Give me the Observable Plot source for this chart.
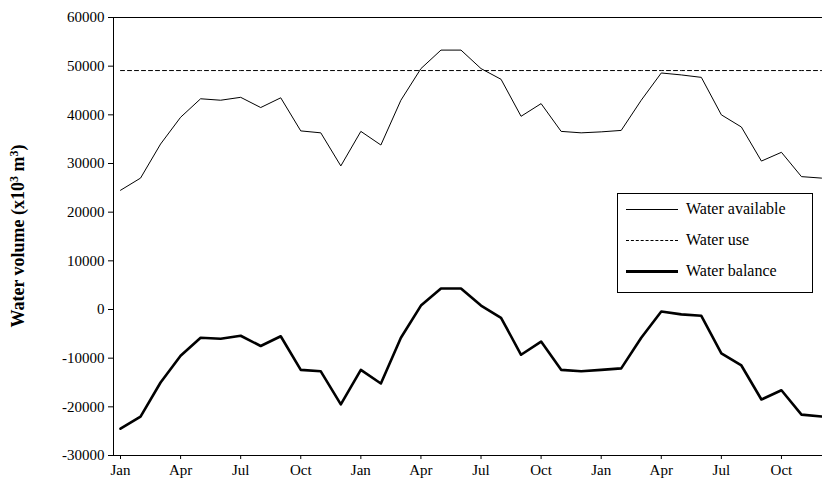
<!DOCTYPE html>
<html><head>
<script src="https://cdn.jsdelivr.net/npm/d3@7"></script>
<script src="https://cdn.jsdelivr.net/npm/@observablehq/plot@0.6"></script>
<style>
body{margin:0;background:#fff;font-family:"Liberation Serif",serif}
#chart{position:relative;width:822px;height:490px}
#legend{position:absolute;left:617px;top:193px;width:194px;height:98px;border:1px solid #000;background:#fff;font-size:16px}
#legend div{position:absolute;left:8px;display:flex;align-items:center}
#legend span.l{display:inline-block;width:52px;margin-right:8px;border-top:1px solid #000}
</style>
</head><body>
<div id="chart"><div id="legend">
<div style="top:6px"><span class="l"></span>Water available</div>
<div style="top:37px"><span class="l" style="border-top:1px dashed #000"></span>Water use</div>
<div style="top:68px"><span class="l" style="border-top:3px solid #000"></span>Water balance</div>
</div></div>
<script>
const months = ["Jan","Feb","Mar","Apr","May","Jun","Jul","Aug","Sep","Oct","Nov","Dec"]
const available = [24500,27000,34000,39500,43300,43000,43600,41500,43500,36700,36300,29500,
  36600,33800,43000,49500,53300,53300,49500,47300,39700,42300,36600,36300,
  36500,36800,43000,48600,48200,47700,40000,37500,30500,32300,27300,27000]
const use = 49100
const balance = [-24500,-22000,-15000,-9500,-5800,-6000,-5400,-7500,-5500,-12400,-12700,-19500,
  -12400,-15200,-5800,800,4300,4300,800,-1700,-9300,-6600,-12400,-12700,
  -12400,-12100,-5800,-400,-1000,-1300,-9000,-11500,-18500,-16600,-21600,-22000]
const data = available.map((a,i)=>({i, a, b: balance[i], u: use}))

let chart = Plot.plot({
  width: 822, height: 490,
  marginLeft: 113, marginRight: 0, marginTop: 17, marginBottom: 35,
  style: {fontFamily: '"Liberation Serif", serif', fontSize: 15, color: 'black', background: 'white'},
  x: {domain: [-0.35, 35.05], ticks: d3.range(0, 36, 3), tickFormat: i => months[i % 12], tickSize: 4, label: null},
  y: {domain: [-30000, 60000], ticks: d3.range(-30000, 60001, 10000), tickSize: 5, label: null, tickFormat: d => String(d)},
  marks: [
    Plot.frame({stroke: 'black'}),
    Plot.line(data, {x: 'i', y: 'a', stroke: 'black', strokeWidth: 1}),
    Plot.line(data, {x: 'i', y: 'u', stroke: 'black', strokeWidth: 1, strokeDasharray: '4,3'}),
    Plot.line(data, {x: 'i', y: 'b', stroke: 'black', strokeWidth: 2.6})
  ]
})
d3.select('#chart').append(() => chart)
d3.select(chart).append('text')
  .attr('transform', 'translate(24,236) rotate(-90)')
  .attr('text-anchor', 'middle')
  .attr('font-weight', 'bold').attr('font-size', 18)
  .html('Water volume (x10<tspan dy="-6" font-size="12">3</tspan><tspan dy="6"> m</tspan><tspan dy="-6" font-size="12">3</tspan><tspan dy="6">)</tspan>')
</script>
</body></html>
